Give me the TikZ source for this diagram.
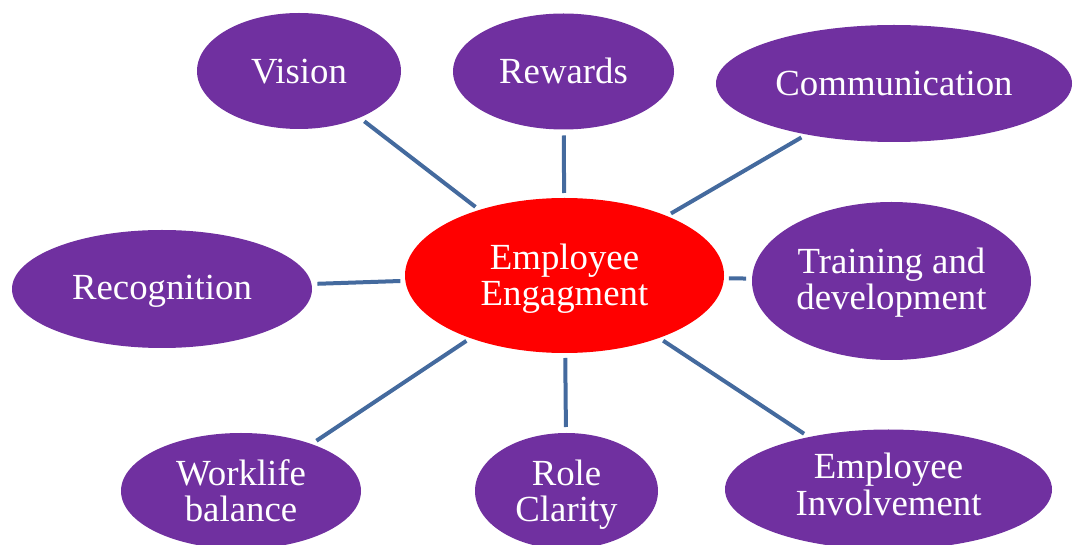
\documentclass[tikz,border=0pt]{standalone}
\usepackage{fontspec}
\setmainfont{Liberation Serif}
\usetikzlibrary{shapes.geometric}
\definecolor{bubble}{HTML}{7030A0}
\definecolor{hub}{HTML}{FF0000}
\definecolor{spoke}{RGB}{68,106,158}
\newcommand{\lifttext}[2]{\raisebox{-#1}[\height][\depth]{\begin{tabular}{@{}c@{}}#2\end{tabular}}}
\tikzset{
  bub/.style={ellipse, fill=bubble, text=white, inner sep=0pt, outer sep=0pt,
    font=\fontsize{18.4}{18.35}\selectfont},
  hubnode/.style={bub, fill=hub},
  link/.style={draw=spoke, line width=2pt, shorten <=3pt, shorten >=2.5pt}
}
\begin{document}
\begin{tikzpicture}[x=0.5pt, y=-0.5pt]
\useasboundingbox (0,0) rectangle (1073,545);
\node[hubnode, minimum width=159.5pt, minimum height=77.5pt] (ee) at (564.5,275.5) {\lifttext{2.3pt}{Employee\\Engagment}};
\node[bub, minimum width=102pt, minimum height=58pt] (vis) at (299,71) {\lifttext{2.7pt}{Vision}};
\node[bub, minimum width=110.5pt, minimum height=58pt] (rew) at (563.5,71.5) {\lifttext{2.45pt}{Rewards}};
\node[bub, minimum width=178pt, minimum height=58.5pt] (com) at (894,83.5) {\lifttext{2.5pt}{Communication}};
\node[bub, minimum width=150pt, minimum height=59pt] (rec) at (162,289) {\lifttext{1.6pt}{Recognition}};
\node[bub, minimum width=139.5pt, minimum height=79pt] (tra) at (891.5,281) {\lifttext{1.65pt}{Training and\\development}};
\node[bub, minimum width=120pt, minimum height=58pt] (wor) at (241,491) {\lifttext{2.55pt}{Worklife\\balance}};
\node[bub, minimum width=91.5pt, minimum height=58pt] (rol) at (566.5,491) {\lifttext{2.55pt}{Role\\Clarity}};
\node[bub, minimum width=163.5pt, minimum height=60pt] (inv) at (888.5,489.5) {\lifttext{0.05pt}{Employee\\Involvement}};
\draw[link] (vis) -- (ee);
\draw[link] (rew) -- (ee);
\draw[link] (com) -- (ee);
\draw[link] (rec) -- (ee);
\draw[link] (tra) -- (ee);
\draw[link] (wor) -- (ee);
\draw[link] (rol) -- (ee);
\draw[link] (inv) -- (ee);
\end{tikzpicture}
\end{document}
